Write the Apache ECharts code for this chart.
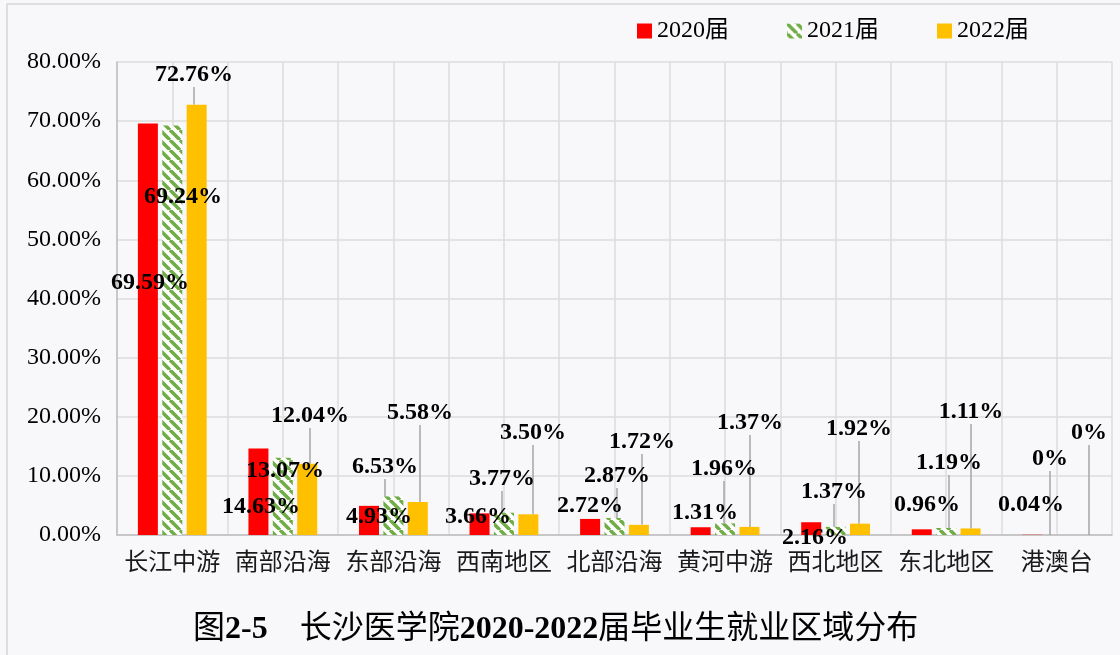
<!DOCTYPE html>
<html>
<head>
<meta charset="utf-8">
<script src="https://cdn.jsdelivr.net/npm/echarts@6/dist/echarts.min.js"></script>
<style>
html,body{margin:0;padding:0;background:#f8f7fa;}
#main{width:1120px;height:655px;}
</style>
</head>
<body>
<div id="main"></div>
<script>
var regions = ['长江中游','南部沿海','东部沿海','西南地区','北部沿海','黄河中游','西北地区','东北地区','港澳台'];
var years = ['2020届','2021届','2022届'];
var v2020 = [69.59,14.63,4.93,3.66,2.72,1.31,2.16,0.96,0.04];
var v2021 = [69.24,13.07,6.53,3.77,2.87,1.96,1.37,1.19,0];
var v2022 = [72.76,12.04,5.58,3.50,1.72,1.37,1.92,1.11,0];
var yTicks = [0,10,20,30,40,50,60,70,80];

// where the data labels sit in the original (centre x, y), and which get a leader line
var pos2020 = [[150,283],[261,507],[379,517],[478,517],[590,506],[705,513],[815,538],[927,505],[1031,505]];
var pos2021 = [[183,197],[285,471],[385,467],[502,479],[617,476],[724,469],[834,492],[949,463],[1050,459]];
var pos2022 = [[194,75],[310,416],[420,413],[533,433],[642,442],[750,423],[859,429],[971,412],[1089,433]];
var line2020 = [0,0,0,0,0,0,0,0,0];
var line2021 = [0,0,1,1,1,1,1,1,1];
var line2022 = [1,1,1,1,1,1,1,1,1];

var serif = "'Liberation Serif','Times New Roman','Noto Sans CJK SC'";

function hatch() {
  var c = document.createElement('canvas');
  c.width = 10; c.height = 10;
  var ctx = c.getContext('2d');
  ctx.fillStyle = '#ffffff';
  ctx.fillRect(0, 0, 10, 10);
  ctx.strokeStyle = '#70ad47';
  ctx.lineWidth = 3.5;
  [-10, 0, 10].forEach(function (k) {
    ctx.beginPath();
    ctx.moveTo(k, 0);
    ctx.lineTo(k + 10, 10);
    ctx.stroke();
  });
  return c;
}

function pct(p) {
  return p.value === 0 ? '0%' : p.value.toFixed(2) + '%';
}

function makeSeries(name, values, color, pos, lines) {
  var data = [];
  for (var i = 0; i < values.length; i++) {
    data.push({ value: values[i], labelLine: { show: lines[i] === 1 } });
  }
  return {
    name: name,
    type: 'bar',
    xAxisIndex: 0,
    barWidth: 20,
    barGap: '22%',
    itemStyle: { color: color },
    emphasis: { disabled: true },
    label: {
      show: true,
      position: 'top',
      formatter: pct,
      fontFamily: serif,
      fontWeight: 'bold',
      fontSize: 24,
      color: '#000'
    },
    labelLine: { show: true, lineStyle: { color: '#a6a6a6', width: 1.5 } },
    labelLayout: function (params) {
      var p = pos[params.dataIndex];
      return { x: p[0], y: p[1], align: 'center', verticalAlign: 'middle' };
    },
    data: data
  };
}

var chart = echarts.init(document.getElementById('main'));

chart.setOption({
  backgroundColor: '#f8f7fa',
  animation: false,
  grid: { left: 117, right: 8, top: 62, bottom: 120 },
  legend: {
    data: years,
    left: 637,
    top: 19,
    padding: 0,
    itemWidth: 15,
    itemHeight: 15,
    itemGap: 58,
    icon: 'rect',
    textStyle: { fontFamily: serif, fontSize: 24, color: '#000' }
  },
  xAxis: [{
    type: 'category',
    data: regions,
    axisTick: { show: false },
    axisLine: { lineStyle: { color: '#bfbfbf', width: 1.5 } },
    axisLabel: { interval: 0, fontFamily: serif, fontSize: 24, color: '#1a1a1a', margin: 17 }
  }, {
    type: 'value',
    min: 0,
    max: regions.length * 2,
    interval: 1,
    position: 'top',
    axisLine: { show: false },
    axisTick: { show: false },
    axisLabel: { show: false },
    splitLine: { show: true, lineStyle: { color: '#dcdcdc', width: 1.5 } }
  }],
  yAxis: {
    type: 'value',
    min: yTicks[0],
    max: yTicks[yTicks.length - 1],
    interval: yTicks[1] - yTicks[0],
    axisLine: { show: true, lineStyle: { color: '#bfbfbf', width: 1.5 } },
    axisTick: { show: false },
    axisLabel: {
      fontFamily: serif, fontSize: 24, color: '#000', margin: 16,
      formatter: function (v) { return v.toFixed(2) + '%'; }
    },
    splitLine: { lineStyle: { color: '#dcdcdc', width: 1.5 } }
  },
  graphic: [{
    type: 'rect',
    shape: { x: 7, y: 4, width: 1140, height: 680 },
    style: { fill: null, stroke: '#d6d6d6', lineWidth: 1.5 },
    silent: true
  }, {
    type: 'text',
    left: 193,
    top: 614,
    style: {
      text: '{a|图}{b|2-5}{a|　长沙医学院}{b|2020-2022}{a|届毕业生就业区域分布}',
      rich: {
        a: { fontFamily: serif, fontSize: 32, fill: '#000' },
        b: { fontFamily: serif, fontSize: 32, fontWeight: 'bold', fill: '#000' }
      }
    }
  }],
  series: [
    makeSeries(years[0], v2020, '#ff0000', pos2020, line2020),
    makeSeries(years[1], v2021, { image: hatch(), repeat: 'repeat' }, pos2021, line2021),
    makeSeries(years[2], v2022, '#ffc000', pos2022, line2022)
  ]
});
</script>
</body>
</html>
